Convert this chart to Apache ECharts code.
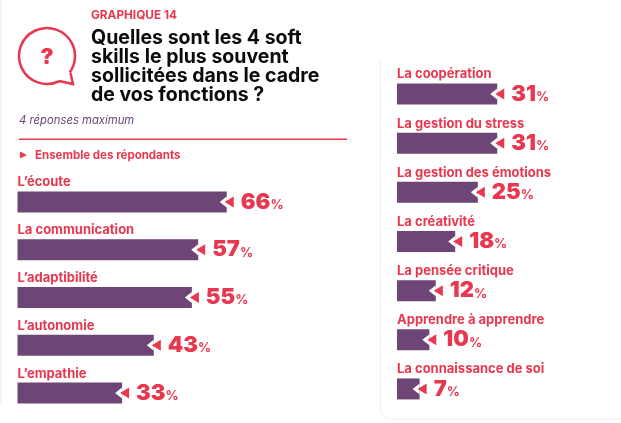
<!DOCTYPE html>
<html>
<head>
<meta charset="utf-8">
<script src="https://cdn.jsdelivr.net/npm/echarts@6/dist/echarts.min.js"></script>
<style>
  html, body { margin: 0; padding: 0; background: #fff; }
  #chart { width: 621px; height: 423px; }
</style>
</head>
<body>
<div id="chart"></div>
<script>
const leftCategories = ['L’écoute', 'La communication', 'L’adaptibilité', 'L’autonomie', 'L’empathie'];
const leftValues = [66, 57, 55, 43, 33];
const rightCategories = ['La coopération', 'La gestion du stress', 'La gestion des émotions', 'La créativité', 'La pensée critique', 'Apprendre à apprendre', 'La connaissance de soi'];
const rightValues = [31, 31, 25, 18, 12, 10, 7];
const titleLines = ['Quelles sont les 4 soft', 'skills le plus souvent', 'sollicitées dans le cadre', 'de vos fonctions ?'];

const RED = '#e8384f';
const PURPLE = '#6d4577';
const FONT = 'Inter';
const ARROW = 'path://M10,0 L10,10 L0,5 Z';

function barSeries(idx, values) {
  return {
    type: 'bar',
    xAxisIndex: idx,
    yAxisIndex: idx,
    data: values,
    barWidth: 21,
    itemStyle: { color: PURPLE },
    label: {
      show: true,
      position: 'right',
      distance: 14,
      formatter: p => '{v|' + p.value + '}{p|%}',
      rich: {
        v: { fontFamily: FONT, fontWeight: 900, fontSize: 22, color: RED },
        p: { fontFamily: FONT, fontWeight: 700, fontSize: 13, color: RED, padding: [6, 0, 0, 0] }
      }
    }
  };
}

// white notch + red triangle at the end of each bar
function arrowSeries(idx, cats, values, color, size, offset, z) {
  return {
    type: 'scatter',
    xAxisIndex: idx,
    yAxisIndex: idx,
    data: values.map((v, i) => [v, cats[i]]),
    symbol: ARROW,
    symbolSize: size,
    symbolOffset: [offset, 0],
    itemStyle: { color: color, opacity: 1 },
    silent: true,
    z: z
  };
}

function yAxis(idx, cats) {
  return {
    type: 'category',
    gridIndex: idx,
    data: cats,
    inverse: true,
    axisLine: { show: false },
    axisTick: { show: false },
    axisLabel: {
      inside: true,
      margin: 0,
      align: 'left',
      verticalAlign: 'bottom',
      padding: [0, 0, 13, 0],
      fontFamily: FONT,
      fontWeight: 700,
      fontSize: 13,
      color: RED
    }
  };
}

function xAxis(idx, max) {
  return { type: 'value', gridIndex: idx, min: 0, max: max, show: false };
}

const graphics = [
  { type: 'rect', shape: { x: 0, y: 0, width: 2, height: 405 }, style: { fill: '#fdf1ee' } },
  { type: 'polyline', shape: { points: [[380.5, 60], [380.5, 409]] }, style: { fill: 'none', stroke: '#fdeeee', lineWidth: 1.5 } },
  { type: 'arc', shape: { cx: 390.5, cy: 409, r: 10, startAngle: Math.PI / 2, endAngle: Math.PI, clockwise: true }, style: { fill: 'none', stroke: '#fdeeee', lineWidth: 1.5 } },
  { type: 'polyline', shape: { points: [[390.5, 419], [621, 419]] }, style: { fill: 'none', stroke: '#fdeeee', lineWidth: 1.5 } },
  { type: 'arc', shape: { cx: 47, cy: 56, r: 28, startAngle: 64.4 * Math.PI / 180, endAngle: 35.9 * Math.PI / 180, clockwise: true }, style: { fill: 'none', stroke: RED, lineWidth: 2.5 } },
  { type: 'polyline', shape: { points: [[70.5, 73], [73, 84], [59, 81]] }, style: { fill: 'none', stroke: RED, lineWidth: 2.5 } },
  { type: 'text', x: 47, y: 57, style: { text: '?', fontFamily: FONT, fontWeight: 900, fontSize: 22, fill: RED, align: 'center', verticalAlign: 'middle' } },
  { type: 'text', x: 91, y: 15.5, style: { text: 'GRAPHIQUE 14', fontFamily: FONT, fontWeight: 700, fontSize: 11.8, fill: RED, verticalAlign: 'middle' } },
  { type: 'text', x: 19, y: 121, style: { text: '4 réponses maximum', fontFamily: FONT, fontStyle: 'italic', fontSize: 11.3, fill: PURPLE, verticalAlign: 'middle' } },
  { type: 'rect', shape: { x: 19, y: 138.5, width: 328, height: 1.5 }, style: { fill: RED } },
  { type: 'polygon', shape: { points: [[20, 151.5], [27, 155], [20, 158.5]] }, style: { fill: RED } },
  { type: 'text', x: 35, y: 155.5, style: { text: 'Ensemble des répondants', fontFamily: FONT, fontWeight: 700, fontSize: 11.5, fill: RED, verticalAlign: 'middle' } }
];
titleLines.forEach((line, i) => {
  graphics.push({ type: 'text', x: 91, y: 38 + i * 19.2, style: { text: line, fontFamily: FONT, fontWeight: 700, fontSize: 19.5, fill: '#0b0b0b', verticalAlign: 'middle' } });
});

const chart = echarts.init(document.getElementById('chart'), null, { renderer: 'canvas' });
chart.setOption({
  animation: false,
  backgroundColor: '#ffffff',
  graphic: graphics,
  grid: [
    { left: 17.5, top: 178, width: 317, height: 239 },
    { left: 397, top: 69.5, width: 194, height: 344 }
  ],
  xAxis: [xAxis(0, 100), xAxis(1, 60)],
  yAxis: [yAxis(0, leftCategories), yAxis(1, rightCategories)],
  series: [
    barSeries(0, leftValues),
    arrowSeries(0, leftCategories, leftValues, '#ffffff', [7, 11], -3.5, 3),
    arrowSeries(0, leftCategories, leftValues, RED, [9, 11], 2.5, 4),
    barSeries(1, rightValues),
    arrowSeries(1, rightCategories, rightValues, '#ffffff', [7, 11], -3.5, 3),
    arrowSeries(1, rightCategories, rightValues, RED, [9, 11], 2.5, 4)
  ]
});
</script>
</body>
</html>
